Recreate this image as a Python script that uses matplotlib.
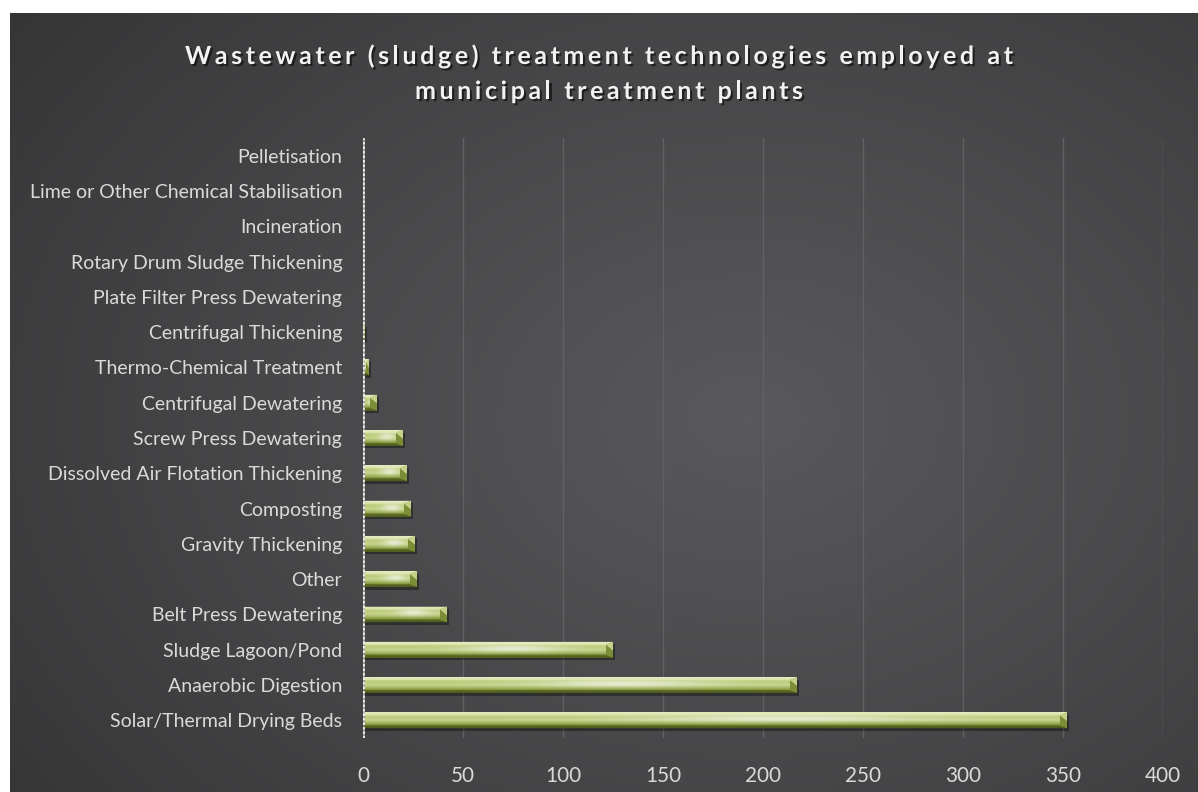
import matplotlib.pyplot as plt
import matplotlib.patheffects as pe
import numpy as np
from matplotlib.colors import to_rgb
from matplotlib.font_manager import FontProperties
from matplotlib.patches import Polygon, Rectangle

# Number of municipal plants using each sludge treatment technology
categories = [
    "Solar/Thermal Drying Beds",
    "Anaerobic Digestion",
    "Sludge Lagoon/Pond",
    "Belt Press Dewatering",
    "Other",
    "Gravity Thickening",
    "Composting",
    "Dissolved Air Flotation Thickening",
    "Screw Press Dewatering",
    "Centrifugal Dewatering",
    "Thermo-Chemical Treatment",
    "Centrifugal Thickening",
    "Plate Filter Press Dewatering",
    "Rotary Drum Sludge Thickening",
    "Incineration",
    "Lime or Other Chemical Stabilisation",
    "Pelletisation",
]
plants = [352, 217, 125, 42, 27, 26, 24, 22, 20, 7, 3, 1, 0, 0, 0, 0, 0]
x_ticks = [0, 50, 100, 150, 200, 250, 300, 350, 400]
title_lines = [
    "Wastewater (sludge) treatment technologies employed at",
    "municipal treatment plants",
]

W, H = 1198, 792
fig = plt.figure(figsize=(W / 100, H / 100), dpi=100)
fig.patch.set_facecolor("white")
renderer = fig.canvas.get_renderer()

FONT = "Lato"
TEXT_COL = "#dadada"


def text_width(s, prop):
    w, _, _ = renderer.get_text_width_height_descent(s, prop, ismath=False)
    return w


# dark panel with a broad soft glow towards the centre-right
bg = fig.add_axes([10 / W, 0, (W - 10) / W, (H - 13) / H], zorder=0)
bg.set_axis_off()
yy, xx = np.mgrid[0:1:300j, 0:1:450j]
r = np.sqrt(((xx - 0.62) / 0.85) ** 2 + ((yy - 0.52) / 0.95) ** 2)
v = 0.19 + 0.16 * np.clip(1 - r, 0, 1) ** 0.9
panel = np.dstack([v, v, v * 1.025])
bg.imshow(np.clip(panel, 0, 1), extent=(0, 1, 0, 1), aspect="auto",
          interpolation="bicubic")
bg.set_xlim(0, 1)
bg.set_ylim(0, 1)

# plotting area
ax = fig.add_axes([363 / W, 1 - 738 / H, 800 / W, 600 / H], zorder=1)
ax.patch.set_alpha(0)
for s in ax.spines.values():
    s.set_visible(False)

for xv in x_ticks[1:-1]:
    ax.axvline(xv, color="#616164", lw=1, zorder=1)
ax.axvline(0, color="#9a9a9a", lw=2.8, zorder=5)
ax.axvline(0, color="#f4f4f4", lw=1.8, ls=(0, (1.0, 0.8)), zorder=6)
ax.axvline(x_ticks[-1], color="#a8a8a8", lw=1, ls=(0, (1, 1.5)), zorder=1)

ypos = np.arange(len(categories))
bars = ax.barh(ypos, plants, height=0.45, color="#a3b45c", lw=0, zorder=3)

# pixel size of one data unit (used for bevel sizes)
px_x = 800 / x_ticks[-1]
px_y = 600 / len(categories)

stops = [
    (0.00, "#e4eab9"),
    (0.12, "#c8d48a"),
    (0.35, "#b2c468"),
    (0.50, "#c0d081"),
    (0.75, "#91a44a"),
    (0.90, "#6c7d2b"),
    (1.00, "#4f5c1c"),
]
st = np.array([s[0] for s in stops])
sc = np.array([to_rgb(s[1]) for s in stops])
rows = np.linspace(0, 1, 40)
vert = np.stack([np.interp(rows, st, sc[:, k]) for k in range(3)], axis=1)
glow_v = np.exp(-((rows - 0.4) / 0.24) ** 2)

for bar in bars:
    w = bar.get_width()
    if w <= 0:
        continue
    x0, y0, h = bar.get_x(), bar.get_y(), bar.get_height()
    x1, yt = x0 + w, y0 + h

    # drop shadow
    ax.add_patch(Rectangle((x0, y0 - 2.5 / px_y), w + 2 / px_x, h,
                           color="black", alpha=0.35, lw=0, zorder=2))

    cols = np.linspace(0, 1, 200)
    glow_h = 0.2 + 0.8 * np.exp(-((cols - 0.6) / 0.2) ** 2)
    glow = 0.7 * glow_v[:, None] * glow_h[None, :]
    img = vert[:, None, :] * (1 - glow[..., None]) + glow[..., None] * 0.98
    im = ax.imshow(img, extent=(x0, x1, y0, yt), aspect="auto",
                   interpolation="bilinear", zorder=4)
    im.set_clip_path(bar)

    # bevelled edges
    b = min(7 / px_x, w / 2)
    t = 3 / px_y
    ax.add_patch(Polygon([(x0, yt), (x1, yt), (x1 - b, yt - t), (x0, yt - t)],
                         color="#eef2cf", alpha=0.5, lw=0, zorder=5))
    ax.add_patch(Polygon([(x0, y0), (x1, y0), (x1 - b, y0 + t), (x0, y0 + t)],
                         color="#4c581b", alpha=0.6, lw=0, zorder=5))
    ax.add_patch(Polygon([(x1, yt), (x1, y0), (x1 - b, y0 + t), (x1 - b, yt - t)],
                         color="#7c8d37", lw=0, zorder=5))
    ax.add_patch(Polygon([(x1 - b, yt - t), (x1, yt), (x1, y0 + h * 0.45)],
                         color="#d3dd98", alpha=0.85, lw=0, zorder=6))

ax.set_xlim(x_ticks[0], x_ticks[-1])
ax.set_ylim(-0.5, len(categories) - 0.5)

# label sizes fitted to the panel layout
label_fs = 10 * 313 / text_width(max(categories, key=len),
                                 FontProperties(family=FONT, size=10))
tick_fs = 10 * 36 / text_width("350", FontProperties(family=FONT, size=10))

ax.set_yticks(ypos, categories, fontfamily=FONT, fontsize=label_fs)
ax.set_xticks(x_ticks, [str(t) for t in x_ticks], fontfamily=FONT,
              fontsize=tick_fs)
ax.tick_params(axis="y", length=0, pad=15, colors=TEXT_COL)
ax.tick_params(axis="x", length=0, pad=20, colors=TEXT_COL)

# letter-spaced bold title with a drop shadow
title_prop = FontProperties(family=FONT, weight="bold", size=18)
shadow = [pe.withSimplePatchShadow(offset=(1.5, -1.5), shadow_rgbFace="black",
                                   alpha=0.55)]
first_w = text_width(title_lines[0], title_prop)
spacing = (828 - first_w) / (len(title_lines[0]) - 1)
bar_w = text_width("|", title_prop)
for line, (cx, base) in zip(title_lines, [(599, 64), (609, 99)]):
    total = text_width(line, title_prop) + spacing * (len(line) - 1)
    left = cx - total / 2
    for i, ch in enumerate(line):
        if ch == " ":
            continue
        off = text_width(line[:i] + "|", title_prop) - bar_w if i else 0
        fig.text((left + off + i * spacing) / W, 1 - base / H, ch,
                 fontproperties=title_prop, color="#f2f2f2", ha="left",
                 va="baseline", path_effects=shadow, zorder=10)

fig.savefig("out.png", dpi=100)
